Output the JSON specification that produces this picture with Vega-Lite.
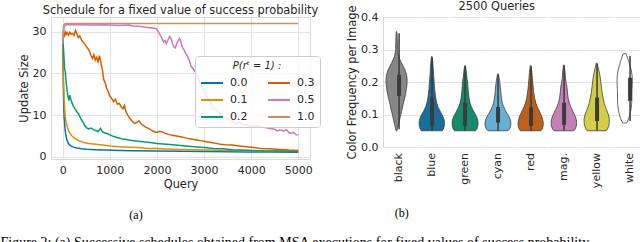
{
  "$schema": "https://vega.github.io/schema/vega-lite/v6.json",
  "background": "white",
  "padding": {"left": 0, "top": 0, "right": 0, "bottom": 0},
  "config": {
    "font": "DejaVu Sans",
    "view": {"stroke": "#d9d9d9"},
    "axis": {"labelFont": "DejaVu Sans", "labelFontSize": 11, "labelColor": "#262626", "titleFont": "DejaVu Sans", "titleFontSize": 11.4, "titleFontWeight": "normal", "titleColor": "#262626", "gridColor": "#e2e2e2", "domain": false, "ticks": false, "labelPadding": 5, "titlePadding": 3},
    "title": {"font": "DejaVu Sans", "fontSize": 11.4, "fontWeight": "normal", "color": "#262626"}
  },
  "title": {"text": "Figure 2: (a) Successive schedules obtained from MSA executions for fixed values of success probability.", "orient": "bottom", "anchor": "start", "font": "Liberation Serif", "fontSize": 14, "fontWeight": "normal", "color": "black", "offset": 15, "dx": -17},
  "resolve": {"scale": {"color": "independent"}, "legend": {"color": "independent"}},
  "spacing": 25,
  "hconcat": [
    {
      "title": {"text": "(a)", "orient": "bottom", "anchor": "middle", "dx": -33, "font": "Liberation Serif", "fontSize": 12, "fontWeight": "normal", "color": "black", "offset": 20},
      "vconcat": [
        {
          "title": {"text": "Schedule for a fixed value of success probability", "offset": 1},
          "width": 259,
          "height": 142,
          "data": {"values": [
            {"p":"0.0","q":0,"s":26},{"p":"0.0","q":5,"s":22},{"p":"0.0","q":10,"s":18},{"p":"0.0","q":20,"s":12.8},{"p":"0.0","q":30,"s":9.5},{"p":"0.0","q":45,"s":7},{"p":"0.0","q":60,"s":5.6},{"p":"0.0","q":80,"s":4.4},{"p":"0.0","q":100,"s":3.6},{"p":"0.0","q":130,"s":3.0},{"p":"0.0","q":170,"s":2.6},{"p":"0.0","q":230,"s":2.3},{"p":"0.0","q":300,"s":2.1},{"p":"0.0","q":400,"s":1.9},{"p":"0.0","q":500,"s":1.8},{"p":"0.0","q":700,"s":1.7},{"p":"0.0","q":900,"s":1.6},{"p":"0.0","q":1200,"s":1.5},{"p":"0.0","q":1500,"s":1.45},{"p":"0.0","q":2000,"s":1.35},{"p":"0.0","q":2500,"s":1.3},{"p":"0.0","q":3000,"s":1.25},{"p":"0.0","q":3500,"s":1.2},{"p":"0.0","q":4000,"s":1.15},{"p":"0.0","q":4500,"s":1.12},{"p":"0.0","q":5000,"s":1.1},
            {"p":"0.1","q":0,"s":27},{"p":"0.1","q":10,"s":22},{"p":"0.1","q":20,"s":17},{"p":"0.1","q":35,"s":12.5},{"p":"0.1","q":50,"s":10},{"p":"0.1","q":70,"s":8.3},{"p":"0.1","q":100,"s":7},{"p":"0.1","q":140,"s":5.8},{"p":"0.1","q":200,"s":4.9},{"p":"0.1","q":270,"s":4.3},{"p":"0.1","q":350,"s":3.8},{"p":"0.1","q":450,"s":3.4},{"p":"0.1","q":550,"s":3.2},{"p":"0.1","q":700,"s":3.0},{"p":"0.1","q":850,"s":2.8},{"p":"0.1","q":1000,"s":2.6},{"p":"0.1","q":1200,"s":2.4},{"p":"0.1","q":1400,"s":2.3},{"p":"0.1","q":1600,"s":2.2},{"p":"0.1","q":1800,"s":2.0},{"p":"0.1","q":2000,"s":1.95},{"p":"0.1","q":2200,"s":1.85},{"p":"0.1","q":2500,"s":1.75},{"p":"0.1","q":2800,"s":1.65},{"p":"0.1","q":3100,"s":1.6},{"p":"0.1","q":3500,"s":1.5},{"p":"0.1","q":4000,"s":1.45},{"p":"0.1","q":4500,"s":1.4},{"p":"0.1","q":5000,"s":1.35},
            {"p":"0.2","q":0,"s":28},{"p":"0.2","q":15,"s":26},{"p":"0.2","q":25,"s":24},{"p":"0.2","q":40,"s":21},{"p":"0.2","q":55,"s":20.5},{"p":"0.2","q":70,"s":18},{"p":"0.2","q":90,"s":16},{"p":"0.2","q":110,"s":14.5},{"p":"0.2","q":130,"s":13.5},{"p":"0.2","q":150,"s":14.8},{"p":"0.2","q":170,"s":13.8},{"p":"0.2","q":200,"s":12.8},{"p":"0.2","q":230,"s":12},{"p":"0.2","q":260,"s":11.5},{"p":"0.2","q":300,"s":10.8},{"p":"0.2","q":340,"s":10.2},{"p":"0.2","q":380,"s":9.2},{"p":"0.2","q":420,"s":8.5},{"p":"0.2","q":460,"s":7.6},{"p":"0.2","q":500,"s":7.0},{"p":"0.2","q":550,"s":6.7},{"p":"0.2","q":600,"s":6.9},{"p":"0.2","q":650,"s":6.5},{"p":"0.2","q":700,"s":6.3},{"p":"0.2","q":750,"s":6.0},{"p":"0.2","q":800,"s":6.8},{"p":"0.2","q":830,"s":6.2},{"p":"0.2","q":870,"s":5.8},{"p":"0.2","q":950,"s":5.5},{"p":"0.2","q":1050,"s":5.0},{"p":"0.2","q":1150,"s":4.6},{"p":"0.2","q":1250,"s":4.3},{"p":"0.2","q":1400,"s":4.0},{"p":"0.2","q":1550,"s":3.8},{"p":"0.2","q":1700,"s":3.6},{"p":"0.2","q":1850,"s":3.4},{"p":"0.2","q":2000,"s":3.2},{"p":"0.2","q":2200,"s":3.0},{"p":"0.2","q":2400,"s":2.8},{"p":"0.2","q":2600,"s":2.6},{"p":"0.2","q":2800,"s":2.4},{"p":"0.2","q":3000,"s":2.2},{"p":"0.2","q":3200,"s":2.0},{"p":"0.2","q":3400,"s":1.9},{"p":"0.2","q":3600,"s":1.7},{"p":"0.2","q":3800,"s":1.6},{"p":"0.2","q":4000,"s":1.5},{"p":"0.2","q":4300,"s":1.4},{"p":"0.2","q":4600,"s":1.35},{"p":"0.2","q":5000,"s":1.25},
            {"p":"0.3","q":0,"s":28},{"p":"0.3","q":15,"s":29.5},{"p":"0.3","q":30,"s":29},{"p":"0.3","q":50,"s":30},{"p":"0.3","q":70,"s":29.3},{"p":"0.3","q":90,"s":29.8},{"p":"0.3","q":120,"s":29.2},{"p":"0.3","q":150,"s":29.9},{"p":"0.3","q":180,"s":29.4},{"p":"0.3","q":210,"s":29.6},{"p":"0.3","q":240,"s":29.1},{"p":"0.3","q":270,"s":30.3},{"p":"0.3","q":300,"s":29.5},{"p":"0.3","q":330,"s":28.6},{"p":"0.3","q":360,"s":29},{"p":"0.3","q":400,"s":28},{"p":"0.3","q":440,"s":27.4},{"p":"0.3","q":480,"s":26.8},{"p":"0.3","q":520,"s":26.2},{"p":"0.3","q":560,"s":25.5},{"p":"0.3","q":600,"s":24.3},{"p":"0.3","q":630,"s":23.6},{"p":"0.3","q":660,"s":24.5},{"p":"0.3","q":690,"s":23.2},{"p":"0.3","q":720,"s":23.9},{"p":"0.3","q":750,"s":22.8},{"p":"0.3","q":780,"s":24.3},{"p":"0.3","q":810,"s":22.5},{"p":"0.3","q":840,"s":21},{"p":"0.3","q":870,"s":18.5},{"p":"0.3","q":900,"s":17.8},{"p":"0.3","q":930,"s":16.5},{"p":"0.3","q":960,"s":15.8},{"p":"0.3","q":1000,"s":14.5},{"p":"0.3","q":1040,"s":14},{"p":"0.3","q":1080,"s":13.2},{"p":"0.3","q":1120,"s":13.8},{"p":"0.3","q":1160,"s":12.6},{"p":"0.3","q":1200,"s":12.8},{"p":"0.3","q":1240,"s":12},{"p":"0.3","q":1280,"s":11.5},{"p":"0.3","q":1310,"s":12.3},{"p":"0.3","q":1340,"s":10.8},{"p":"0.3","q":1380,"s":10},{"p":"0.3","q":1420,"s":9.3},{"p":"0.3","q":1460,"s":8.7},{"p":"0.3","q":1500,"s":8.2},{"p":"0.3","q":1540,"s":8},{"p":"0.3","q":1580,"s":8.3},{"p":"0.3","q":1620,"s":8.6},{"p":"0.3","q":1660,"s":7.9},{"p":"0.3","q":1700,"s":7.6},{"p":"0.3","q":1760,"s":7.1},{"p":"0.3","q":1820,"s":6.8},{"p":"0.3","q":1880,"s":6.4},{"p":"0.3","q":1940,"s":6.0},{"p":"0.3","q":2000,"s":5.8},{"p":"0.3","q":2060,"s":6.1},{"p":"0.3","q":2120,"s":5.9},{"p":"0.3","q":2180,"s":5.6},{"p":"0.3","q":2260,"s":5.3},{"p":"0.3","q":2350,"s":5.1},{"p":"0.3","q":2450,"s":4.9},{"p":"0.3","q":2550,"s":4.7},{"p":"0.3","q":2650,"s":4.4},{"p":"0.3","q":2750,"s":4.2},{"p":"0.3","q":2850,"s":4.0},{"p":"0.3","q":2950,"s":3.8},{"p":"0.3","q":3050,"s":3.6},{"p":"0.3","q":3150,"s":3.4},{"p":"0.3","q":3250,"s":3.2},{"p":"0.3","q":3350,"s":3.0},{"p":"0.3","q":3450,"s":2.9},{"p":"0.3","q":3600,"s":2.8},{"p":"0.3","q":3750,"s":2.6},{"p":"0.3","q":3900,"s":2.4},{"p":"0.3","q":4050,"s":2.2},{"p":"0.3","q":4200,"s":2.0},{"p":"0.3","q":4400,"s":1.9},{"p":"0.3","q":4600,"s":1.75},{"p":"0.3","q":4800,"s":1.6},{"p":"0.3","q":5000,"s":1.5},
            {"p":"0.5","q":0,"s":27},{"p":"0.5","q":15,"s":30},{"p":"0.5","q":30,"s":31.2},{"p":"0.5","q":60,"s":31.6},{"p":"0.5","q":100,"s":31.7},{"p":"0.5","q":300,"s":31.7},{"p":"0.5","q":600,"s":31.6},{"p":"0.5","q":900,"s":31.7},{"p":"0.5","q":1200,"s":31.5},{"p":"0.5","q":1400,"s":31.6},{"p":"0.5","q":1500,"s":31.4},{"p":"0.5","q":1600,"s":31.3},{"p":"0.5","q":1700,"s":31.2},{"p":"0.5","q":1800,"s":31.0},{"p":"0.5","q":1900,"s":30.9},{"p":"0.5","q":1980,"s":30.8},{"p":"0.5","q":2020,"s":30.2},{"p":"0.5","q":2060,"s":29.4},{"p":"0.5","q":2100,"s":28.6},{"p":"0.5","q":2140,"s":27.5},{"p":"0.5","q":2170,"s":27.9},{"p":"0.5","q":2200,"s":27.1},{"p":"0.5","q":2240,"s":28.2},{"p":"0.5","q":2270,"s":28.9},{"p":"0.5","q":2300,"s":28.3},{"p":"0.5","q":2330,"s":27.2},{"p":"0.5","q":2360,"s":26.4},{"p":"0.5","q":2390,"s":26.1},{"p":"0.5","q":2420,"s":27.2},{"p":"0.5","q":2450,"s":27.8},{"p":"0.5","q":2480,"s":28.4},{"p":"0.5","q":2510,"s":27.6},{"p":"0.5","q":2540,"s":26.2},{"p":"0.5","q":2570,"s":25.8},{"p":"0.5","q":2600,"s":25.0},{"p":"0.5","q":2640,"s":24.2},{"p":"0.5","q":2680,"s":23.4},{"p":"0.5","q":2720,"s":21.8},{"p":"0.5","q":2760,"s":21.2},{"p":"0.5","q":2800,"s":20.6},{"p":"0.5","q":2840,"s":20.0},{"p":"0.5","q":2880,"s":18.7},{"p":"0.5","q":2920,"s":17.6},{"p":"0.5","q":2960,"s":16.8},{"p":"0.5","q":3000,"s":16.0},{"p":"0.5","q":3050,"s":14.8},{"p":"0.5","q":3100,"s":13.5},{"p":"0.5","q":3150,"s":12.6},{"p":"0.5","q":3200,"s":11.8},{"p":"0.5","q":3250,"s":11.2},{"p":"0.5","q":3300,"s":10.6},{"p":"0.5","q":3350,"s":10.1},{"p":"0.5","q":3400,"s":9.7},{"p":"0.5","q":3450,"s":9.4},{"p":"0.5","q":3500,"s":9.1},{"p":"0.5","q":3550,"s":8.9},{"p":"0.5","q":3600,"s":8.6},{"p":"0.5","q":3650,"s":8.2},{"p":"0.5","q":3700,"s":7.8},{"p":"0.5","q":3750,"s":8.3},{"p":"0.5","q":3800,"s":7.9},{"p":"0.5","q":3850,"s":7.6},{"p":"0.5","q":3900,"s":7.7},{"p":"0.5","q":3950,"s":7.4},{"p":"0.5","q":4000,"s":7.3},{"p":"0.5","q":4100,"s":7.5},{"p":"0.5","q":4200,"s":7.2},{"p":"0.5","q":4300,"s":7.0},{"p":"0.5","q":4400,"s":6.8},{"p":"0.5","q":4500,"s":6.6},{"p":"0.5","q":4550,"s":6.2},{"p":"0.5","q":4600,"s":6.4},{"p":"0.5","q":4700,"s":6.2},{"p":"0.5","q":4750,"s":6.5},{"p":"0.5","q":4800,"s":5.8},{"p":"0.5","q":4850,"s":5.6},{"p":"0.5","q":4900,"s":5.9},{"p":"0.5","q":4950,"s":5.3},{"p":"0.5","q":5000,"s":5.2},
            {"p":"1.0","q":0,"s":28},{"p":"1.0","q":10,"s":30.5},{"p":"1.0","q":20,"s":31.5},{"p":"1.0","q":40,"s":31.9},{"p":"1.0","q":80,"s":32},{"p":"1.0","q":5000,"s":32}
          ]},
          "mark": {"type": "line", "strokeWidth": 1.5, "clip": true},
          "encoding": {
            "x": {"field": "q", "type": "quantitative", "scale": {"domain": [-250, 5250], "nice": false, "zero": false}, "axis": {"values": [0, 1000, 2000, 3000, 4000, 5000], "format": "d", "title": "Query", "titlePadding": 3}},
            "y": {"field": "s", "type": "quantitative", "scale": {"domain": [-0.55, 33.55], "nice": false, "zero": false}, "axis": {"values": [0, 10, 20, 30], "title": "Update Size"}},
            "color": {"field": "p", "type": "nominal",
              "scale": {"domain": ["0.0", "0.1", "0.2", "0.3", "0.5", "1.0"], "range": ["#0173b2", "#de8f05", "#029e73", "#d55e00", "#cc78bc", "#ca9161"]},
              "legend": {"title": "P(rᵗ = 1) :", "orient": "none", "legendX": 144, "legendY": 39, "columns": 2, "columnPadding": 16, "rowPadding": -7, "symbolType": "stroke", "symbolSize": 484, "symbolStrokeWidth": 2, "labelFont": "DejaVu Sans", "labelFontSize": 11, "labelColor": "#262626", "labelOffset": 6, "titleFont": "DejaVu Sans", "titleFontSize": 10, "titleFontStyle": "italic", "titleFontWeight": "normal", "titleColor": "#262626", "titleAnchor": "middle", "titlePadding": 0, "fillColor": "rgba(255,255,255,0.8)", "strokeColor": "#cccccc", "cornerRadius": 3, "padding": 5}
            }
          }
        }
      ]
    },
    {
      "title": {"text": "(b)", "orient": "bottom", "anchor": "middle", "dx": -95, "font": "Liberation Serif", "fontSize": 12, "fontWeight": "normal", "color": "black", "offset": 20},
      "vconcat": [
        {
          "title": {"text": "2500 Queries", "anchor": "middle", "offset": -7},
          "data": {"values": [
            {"c":"black","v":0.05,"w":0.8},{"c":"black","v":0.06,"w":2.5},{"c":"black","v":0.07,"w":4},{"c":"black","v":0.08,"w":5.5},{"c":"black","v":0.09,"w":7},{"c":"black","v":0.10,"w":8.5},{"c":"black","v":0.11,"w":10},{"c":"black","v":0.12,"w":11.5},{"c":"black","v":0.13,"w":13},{"c":"black","v":0.14,"w":14.5},{"c":"black","v":0.15,"w":16},{"c":"black","v":0.16,"w":17.5},{"c":"black","v":0.17,"w":18.8},{"c":"black","v":0.18,"w":19.8},{"c":"black","v":0.19,"w":20.6},{"c":"black","v":0.20,"w":21},{"c":"black","v":0.21,"w":21},{"c":"black","v":0.22,"w":20.2},{"c":"black","v":0.23,"w":18.6},{"c":"black","v":0.24,"w":16},{"c":"black","v":0.25,"w":12.8},{"c":"black","v":0.26,"w":9.5},{"c":"black","v":0.27,"w":6.5},{"c":"black","v":0.28,"w":4},{"c":"black","v":0.29,"w":2.6},{"c":"black","v":0.30,"w":2},{"c":"black","v":0.32,"w":1.6},{"c":"black","v":0.34,"w":1.2},{"c":"black","v":0.355,"w":0.6},
            {"c":"blue","v":0.05,"w":21},{"c":"blue","v":0.055,"w":23},{"c":"blue","v":0.065,"w":25},{"c":"blue","v":0.075,"w":25.5},{"c":"blue","v":0.085,"w":24.5},{"c":"blue","v":0.095,"w":22},{"c":"blue","v":0.105,"w":18.5},{"c":"blue","v":0.115,"w":15},{"c":"blue","v":0.125,"w":12},{"c":"blue","v":0.135,"w":10},{"c":"blue","v":0.145,"w":8.5},{"c":"blue","v":0.16,"w":7},{"c":"blue","v":0.18,"w":5.6},{"c":"blue","v":0.2,"w":4.6},{"c":"blue","v":0.22,"w":3.6},{"c":"blue","v":0.24,"w":2.8},{"c":"blue","v":0.26,"w":2},{"c":"blue","v":0.278,"w":0.8},
            {"c":"green","v":0.05,"w":21},{"c":"green","v":0.055,"w":23.5},{"c":"green","v":0.065,"w":25.5},{"c":"green","v":0.075,"w":26},{"c":"green","v":0.085,"w":25},{"c":"green","v":0.095,"w":22.5},{"c":"green","v":0.105,"w":19},{"c":"green","v":0.115,"w":15.5},{"c":"green","v":0.125,"w":12.5},{"c":"green","v":0.135,"w":10},{"c":"green","v":0.15,"w":8},{"c":"green","v":0.17,"w":6.5},{"c":"green","v":0.19,"w":5.5},{"c":"green","v":0.2,"w":5.2},{"c":"green","v":0.21,"w":4},{"c":"green","v":0.23,"w":2.6},{"c":"green","v":0.25,"w":0.8},
            {"c":"cyan","v":0.05,"w":20},{"c":"cyan","v":0.055,"w":23},{"c":"cyan","v":0.065,"w":25.5},{"c":"cyan","v":0.075,"w":25.8},{"c":"cyan","v":0.085,"w":24.5},{"c":"cyan","v":0.095,"w":21.5},{"c":"cyan","v":0.105,"w":17.5},{"c":"cyan","v":0.115,"w":14},{"c":"cyan","v":0.125,"w":11},{"c":"cyan","v":0.135,"w":8.8},{"c":"cyan","v":0.15,"w":7},{"c":"cyan","v":0.17,"w":5.6},{"c":"cyan","v":0.19,"w":4.4},{"c":"cyan","v":0.205,"w":3},{"c":"cyan","v":0.225,"w":0.8},
            {"c":"red","v":0.05,"w":20.5},{"c":"red","v":0.055,"w":23},{"c":"red","v":0.065,"w":25},{"c":"red","v":0.075,"w":25.2},{"c":"red","v":0.085,"w":24},{"c":"red","v":0.095,"w":22},{"c":"red","v":0.105,"w":19},{"c":"red","v":0.115,"w":16},{"c":"red","v":0.125,"w":13},{"c":"red","v":0.135,"w":10.5},{"c":"red","v":0.15,"w":8},{"c":"red","v":0.17,"w":6},{"c":"red","v":0.19,"w":4.6},{"c":"red","v":0.21,"w":3.4},{"c":"red","v":0.23,"w":2.4},{"c":"red","v":0.25,"w":0.8},
            {"c":"mag.","v":0.05,"w":20},{"c":"mag.","v":0.055,"w":22.5},{"c":"mag.","v":0.065,"w":25},{"c":"mag.","v":0.075,"w":25.6},{"c":"mag.","v":0.085,"w":24.8},{"c":"mag.","v":0.095,"w":22.5},{"c":"mag.","v":0.105,"w":19.5},{"c":"mag.","v":0.115,"w":16.5},{"c":"mag.","v":0.125,"w":13.5},{"c":"mag.","v":0.135,"w":11},{"c":"mag.","v":0.15,"w":8.6},{"c":"mag.","v":0.17,"w":7},{"c":"mag.","v":0.185,"w":6.2},{"c":"mag.","v":0.195,"w":5},{"c":"mag.","v":0.21,"w":3.4},{"c":"mag.","v":0.23,"w":2.4},{"c":"mag.","v":0.252,"w":0.8},
            {"c":"yellow","v":0.05,"w":19},{"c":"yellow","v":0.055,"w":21.5},{"c":"yellow","v":0.065,"w":24},{"c":"yellow","v":0.075,"w":25.2},{"c":"yellow","v":0.085,"w":25.3},{"c":"yellow","v":0.095,"w":24.2},{"c":"yellow","v":0.105,"w":22},{"c":"yellow","v":0.115,"w":19.5},{"c":"yellow","v":0.125,"w":17},{"c":"yellow","v":0.135,"w":15},{"c":"yellow","v":0.15,"w":12.8},{"c":"yellow","v":0.17,"w":10.6},{"c":"yellow","v":0.19,"w":9},{"c":"yellow","v":0.21,"w":7.4},{"c":"yellow","v":0.225,"w":5.8},{"c":"yellow","v":0.24,"w":3.6},{"c":"yellow","v":0.258,"w":0.8},
            {"c":"white","v":0.074,"w":4},{"c":"white","v":0.08,"w":6},{"c":"white","v":0.09,"w":8.5},{"c":"white","v":0.10,"w":10.5},{"c":"white","v":0.11,"w":12},{"c":"white","v":0.12,"w":13},{"c":"white","v":0.13,"w":13.8},{"c":"white","v":0.14,"w":14.2},{"c":"white","v":0.15,"w":14.3},{"c":"white","v":0.16,"w":14.3},{"c":"white","v":0.17,"w":14.4},{"c":"white","v":0.18,"w":14.7},{"c":"white","v":0.19,"w":15},{"c":"white","v":0.20,"w":15.2},{"c":"white","v":0.21,"w":15.2},{"c":"white","v":0.22,"w":14.8},{"c":"white","v":0.23,"w":13.8},{"c":"white","v":0.24,"w":12.5},{"c":"white","v":0.25,"w":10.8},{"c":"white","v":0.26,"w":8.8},{"c":"white","v":0.27,"w":6.8},{"c":"white","v":0.28,"w":4.6},{"c":"white","v":0.287,"w":2.5},
            {"c":"black","lo":0.055,"hi":0.35,"q1":0.157,"q3":0.222},
            {"c":"blue","lo":0.05,"hi":0.275,"q1":0.065,"q3":0.151},
            {"c":"green","lo":0.05,"hi":0.248,"q1":0.065,"q3":0.136},
            {"c":"cyan","lo":0.05,"hi":0.222,"q1":0.075,"q3":0.123},
            {"c":"red","lo":0.05,"hi":0.248,"q1":0.065,"q3":0.122},
            {"c":"mag.","lo":0.05,"hi":0.25,"q1":0.068,"q3":0.136},
            {"c":"yellow","lo":0.05,"hi":0.256,"q1":0.08,"q3":0.152},
            {"c":"white","lo":0.08,"hi":0.28,"q1":0.142,"q3":0.213}
          ]},
          "facet": {"column": {"field": "c", "type": "nominal", "sort": ["black", "blue", "green", "cyan", "red", "mag.", "yellow", "white"],
            "header": {"title": null, "labelOrient": "bottom", "labelAngle": -90, "labelAlign": "right", "labelBaseline": "middle", "labelFont": "DejaVu Sans", "labelFontSize": 11, "labelColor": "#262626", "labelPadding": 6}}},
          "spacing": 0,
          "spec": {
            "width": 32.125,
            "height": 130,
            "view": {"stroke": null},
            "resolve": {"axis": {"y": "independent"}},
            "layer": [
              {
                "transform": [{"filter": "datum.w != null"}],
                "mark": {"type": "area", "orient": "horizontal", "stroke": "#3d3d3d", "strokeWidth": 0.8, "opacity": 1},
                "encoding": {
                  "x": {"field": "w", "type": "quantitative", "stack": "center", "scale": {"domain": [-3.0625, 29.0625], "nice": false, "zero": false}, "axis": null},
                  "y": {"field": "v", "type": "quantitative", "scale": {"domain": [0, 0.4], "nice": false, "zero": false}, "axis": {"orient": "left", "values": [0, 0.1, 0.2, 0.3, 0.4], "format": ".1f", "title": "Color Frequency per Image", "domain": true, "domainColor": "#d9d9d9", "grid": true}},
                  "color": {"field": "c", "type": "nominal", "scale": {"domain": ["black", "blue", "green", "cyan", "red", "mag.", "yellow", "white"], "range": ["#878787", "#176d9c", "#168b6a", "#68afd7", "#bb611b", "#c282b5", "#d5cd4a", "#ffffff"]}, "legend": null}
                }
              },
              {
                "transform": [{"filter": "datum.q1 != null"}],
                "mark": {"type": "rule", "strokeWidth": 1.5, "color": "#3b3b3b"},
                "encoding": {
                  "x": {"datum": 13, "type": "quantitative"},
                  "y": {"field": "lo", "type": "quantitative", "axis": {"orient": "right", "labels": false, "ticks": false, "grid": false, "title": null, "domain": true, "domainColor": "#d9d9d9"}},
                  "y2": {"field": "hi"}
                }
              },
              {
                "transform": [{"filter": "datum.q1 != null"}],
                "mark": {"type": "rule", "strokeWidth": 4, "color": "#3b3b3b"},
                "encoding": {
                  "x": {"datum": 13, "type": "quantitative"},
                  "y": {"field": "q1", "type": "quantitative", "axis": null},
                  "y2": {"field": "q3"}
                }
              }
            ]
          }
        }
      ]
    }
  ]
}
